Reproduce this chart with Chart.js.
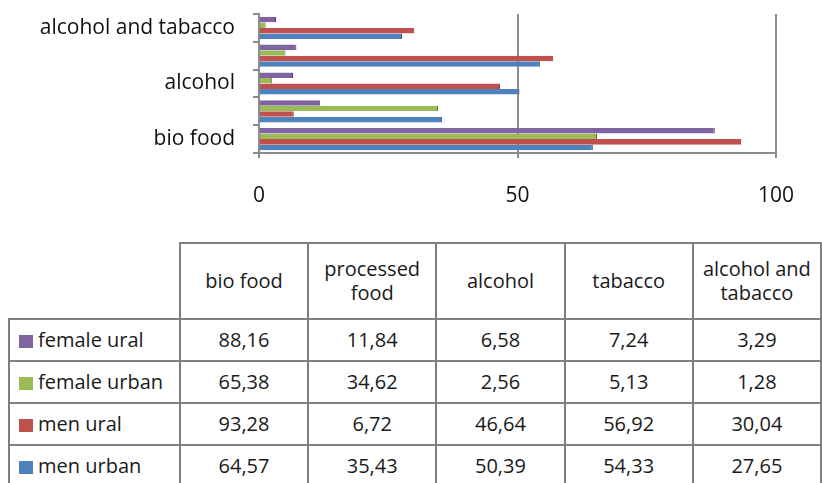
<!DOCTYPE html>
<html>
<head>
<meta charset="utf-8">
<script src="https://cdn.jsdelivr.net/npm/chart.js@4.4.1/dist/chart.umd.min.js"></script>
<style>
    html, body { margin: 0; padding: 0; background: #fff; }
    body { width: 822px; height: 483px; position: relative; overflow: hidden; font-family: "Open Sans", sans-serif; }
    #chartCanvas { position: absolute; left: 0; top: 0; }
    #dataTable {
        position: absolute; left: 8px; top: 242px;
        border-collapse: collapse; table-layout: fixed;
        font-size: 20px; color: #1a1a1a;
    }
    #dataTable td { border: 2px solid #808080; text-align: center; vertical-align: middle; padding: 0; height: 40px; line-height: 24px; }
    #dataTable tr.head td { height: 74px; }
    #dataTable td.blank { border-top: none; border-left: none; }
    #dataTable td.name { text-align: left; padding-left: 9px; white-space: nowrap; }
    .swatch { display: inline-block; width: 14px; height: 13px; margin-right: 5px; vertical-align: -1px; }
</style>
</head>
<body>
<canvas id="chartCanvas" width="822" height="232"></canvas>
<table id="dataTable"></table>
<script>
// categories (bottom to top on the chart)
const categories = ['bio food', 'processed food', 'alcohol', 'tabacco', 'alcohol and tabacco'];
// header text in the table, split over lines
const headerLines = [['bio food'], ['processed', 'food'], ['alcohol'], ['tabacco'], ['alcohol and', 'tabacco']];

// series values
const menUrban = [64.57, 35.43, 50.39, 54.33, 27.65];
const menUral = [93.28, 6.72, 46.64, 56.92, 30.04];
const femaleUrban = [65.38, 34.62, 2.56, 5.13, 1.28];
const femaleUral = [88.16, 11.84, 6.58, 7.24, 3.29];

// value axis ticks
const xTicks = [0, 50, 100];

const seriesNames = ['men urban', 'men ural', 'female urban', 'female ural'];
const seriesData = [menUrban, menUral, femaleUrban, femaleUral];
const seriesColors = ['#4f81bd', '#c0504d', '#9bbb59', '#8064a2'];
const seriesEdges = ['#2c4d75', '#772c2a', '#5f7530', '#4d3b62'];

const PLOT_LEFT = 259;
const PLOT_TOP = 14;
const PLOT_BOTTOM = 153;
const AXIS_FONT = { family: 'Open Sans', size: 21 };

function buildChart() {
    const ctx = document.getElementById('chartCanvas').getContext('2d');
    // last series first so that it sits on top inside each group
    const datasets = [];
    for (let i = seriesNames.length - 1; i >= 0; i--) {
        datasets.push({
            label: seriesNames[i],
            data: seriesData[i],
            backgroundColor: seriesColors[i],
            borderColor: seriesEdges[i],
            borderWidth: { top: 0, right: 1, bottom: 0, left: 0 },
            borderSkipped: false,
            categoryPercentage: 0.8,
            barPercentage: 1.0
        });
    }

    new Chart(ctx, {
        type: 'bar',
        data: { labels: categories, datasets: datasets },
        options: {
            indexAxis: 'y',
            responsive: false,
            animation: false,
            layout: { padding: { top: PLOT_TOP, right: 46, bottom: 0, left: 0 } },
            plugins: { legend: { display: false }, tooltip: { enabled: false } },
            scales: {
                y: {
                    reverse: true,
                    afterFit: scale => {
                        scale.width = PLOT_LEFT;
                        scale.paddingTop = 0;
                        scale.paddingBottom = 0;
                    },
                    grid: {
                        offset: true,
                        drawOnChartArea: false,
                        drawTicks: true,
                        tickLength: 6,
                        color: '#8c8c8c',
                        lineWidth: 2
                    },
                    border: { color: '#8c8c8c', width: 2 },
                    ticks: {
                        autoSkip: false,
                        padding: 18,
                        color: '#111',
                        font: AXIS_FONT,
                        callback: function(val, i) {
                            return i % 2 === 0 ? this.getLabelForValue(val) : '';
                        }
                    }
                },
                x: {
                    min: xTicks[0],
                    max: xTicks[xTicks.length - 1],
                    afterFit: scale => { scale.height = 232 - PLOT_BOTTOM; },
                    afterBuildTicks: scale => { scale.ticks = xTicks.map(v => ({ value: v })); },
                    grid: {
                        color: '#8c8c8c',
                        lineWidth: 2,
                        tickLength: 5
                    },
                    border: { color: '#8c8c8c', width: 2 },
                    ticks: {
                        padding: 25,
                        color: '#111',
                        font: AXIS_FONT
                    }
                }
            }
        }
    });
}

function buildTable() {
    const table = document.getElementById('dataTable');
    const cols = [171].concat(categories.map(() => 128.4));
    const colgroup = document.createElement('colgroup');
    cols.forEach(w => {
        const c = document.createElement('col');
        c.style.width = w + 'px';
        colgroup.appendChild(c);
    });
    table.appendChild(colgroup);

    // header row
    const head = document.createElement('tr');
    head.className = 'head';
    const blank = document.createElement('td');
    blank.className = 'blank';
    head.appendChild(blank);
    headerLines.forEach(lines => {
        const td = document.createElement('td');
        lines.forEach((line, k) => {
            if (k > 0) td.appendChild(document.createElement('br'));
            td.appendChild(document.createTextNode(line));
        });
        head.appendChild(td);
    });
    table.appendChild(head);

    // series rows, last series first
    for (let s = seriesNames.length - 1; s >= 0; s--) {
        const row = document.createElement('tr');
        const nameCell = document.createElement('td');
        nameCell.className = 'name';
        const sw = document.createElement('span');
        sw.className = 'swatch';
        sw.style.background = seriesColors[s];
        nameCell.appendChild(sw);
        nameCell.appendChild(document.createTextNode(seriesNames[s]));
        row.appendChild(nameCell);
        seriesData[s].forEach(v => {
            const td = document.createElement('td');
            td.textContent = v.toFixed(2).replace('.', ',');
            row.appendChild(td);
        });
        table.appendChild(row);
    }
}

document.addEventListener('DOMContentLoaded', function() {
    buildChart();
    buildTable();
});
</script>
</body>
</html>
